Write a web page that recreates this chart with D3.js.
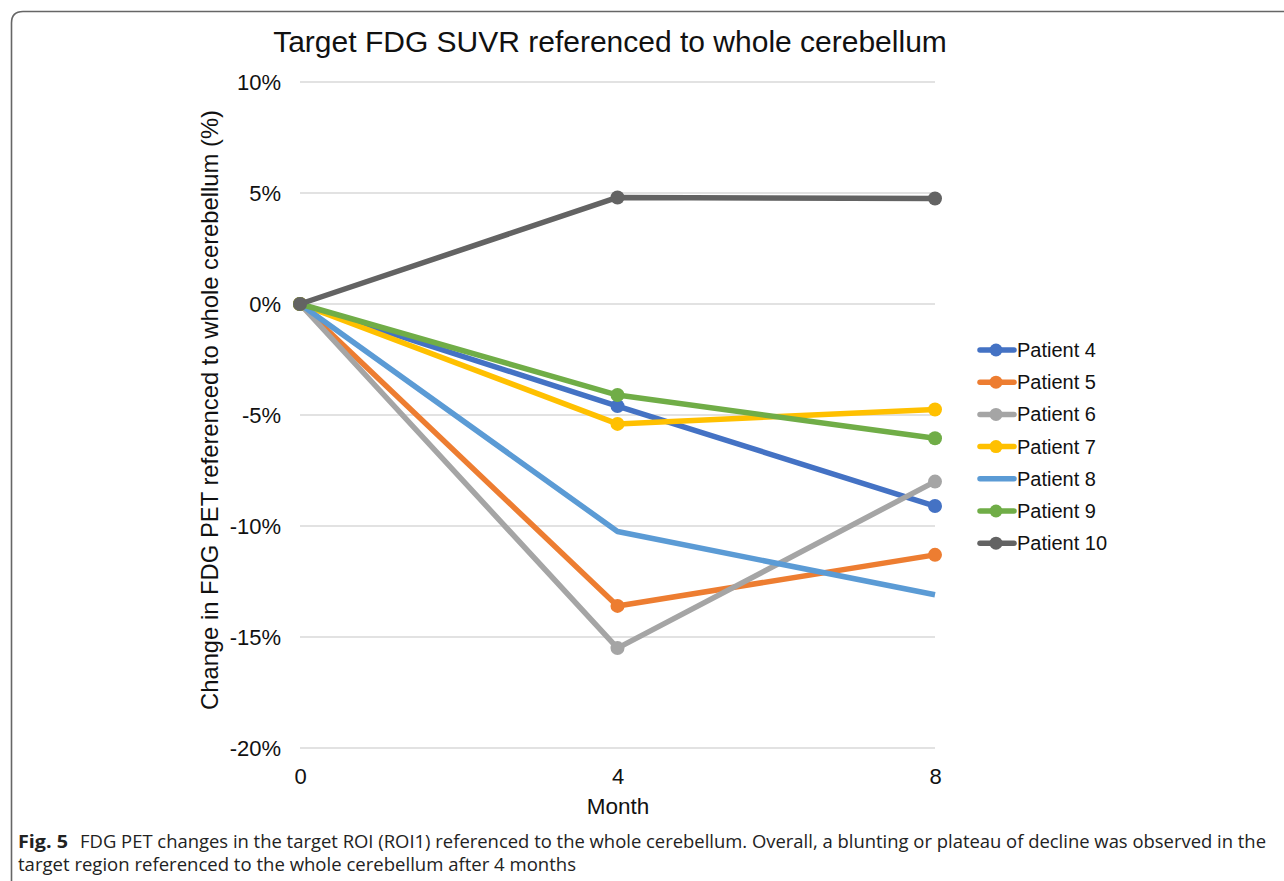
<!DOCTYPE html>
<html>
<head>
<meta charset="utf-8">
<script src="https://cdn.jsdelivr.net/npm/d3@7"></script>
<style>
  html, body { margin: 0; padding: 0; background: #fff; }
  svg { display: block; }
</style>
</head>
<body>
<svg id="chart" width="1284" height="881"></svg>
<script>
const months = [0, 4, 8];
const monthLabels = ["0", "4", "8"];
const yTicks = [10, 5, 0, -5, -10, -15, -20];
const seriesNames = ["Patient 4", "Patient 5", "Patient 6", "Patient 7", "Patient 8", "Patient 9", "Patient 10"];
const seriesColors = ["#4472C4", "#ED7D31", "#A5A5A5", "#FFC000", "#5B9BD5", "#70AD47", "#636363"];
const seriesMarkers = [true, true, true, true, false, true, true];
const patient4 = [0, -4.6, -9.1];
const patient5 = [0, -13.6, -11.3];
const patient6 = [0, -15.5, -8.0];
const patient7 = [0, -5.4, -4.75];
const patient8 = [0, -10.25, -13.1];
const patient9 = [0, -4.1, -6.05];
const patient10 = [0, 4.8, 4.75];
const seriesValues = [patient4, patient5, patient6, patient7, patient8, patient9, patient10];

const svg = d3.select("#chart");
const font = "'Liberation Sans', Arial, Helvetica, sans-serif";

// Frame (rounded top-left, open right/bottom)
svg.append("path")
  .attr("d", "M11.5,881 L11.5,23 Q11.5,11.5 23,11.5 L1284,11.5")
  .attr("fill", "none").attr("stroke", "#666").attr("stroke-width", 1.6);

const x = d3.scaleLinear().domain([0, 8]).range([300, 935]);
const y = d3.scaleLinear().domain([-20, 10]).range([748, 82]);

// Gridlines
svg.append("g").selectAll("line").data(yTicks).join("line")
  .attr("x1", x(0)).attr("x2", x(8))
  .attr("y1", d => y(d)).attr("y2", d => y(d))
  .attr("stroke", "#d9d9d9").attr("stroke-width", 1.3);

// Y axis labels
const yAxis = d3.axisLeft(y).tickValues(yTicks).tickSize(0).tickPadding(0)
  .tickFormat(d => d + "%");
const gy = svg.append("g").attr("transform", "translate(281,0)").call(yAxis);
gy.select(".domain").remove();
gy.selectAll("text").attr("font-family", font).attr("font-size", 22).attr("fill", "#111")
  .attr("dy", "0.35em");

// X axis labels
const xAxis = d3.axisBottom(x).tickValues(months).tickSize(0).tickPadding(0)
  .tickFormat((d, i) => monthLabels[i]);
const gx = svg.append("g").attr("transform", "translate(0,765)").call(xAxis);
gx.select(".domain").remove();
gx.selectAll("text").attr("font-family", font).attr("font-size", 22).attr("fill", "#111")
  .attr("dy", "0.35em").attr("y", 11);

// Title
svg.append("text").attr("x", 610).attr("y", 52).attr("text-anchor", "middle")
  .attr("font-family", font).attr("font-size", 30).attr("fill", "#111")
  .text("Target FDG SUVR referenced to whole cerebellum");

// Axis titles
svg.append("text").attr("x", 618).attr("y", 814).attr("text-anchor", "middle")
  .attr("font-family", font).attr("font-size", 22.5).attr("fill", "#111").text("Month");
svg.append("text").attr("transform", "translate(218,410) rotate(-90)").attr("text-anchor", "middle")
  .attr("font-family", font).attr("font-size", 23.8).attr("fill", "#111")
  .text("Change in FDG PET referenced to whole cerebellum (%)");

// Lines
const line = d3.line().x((d, i) => x(months[i])).y(d => y(d));
const gLines = svg.append("g");
seriesValues.forEach((vals, si) => {
  const g = gLines.append("g");
  g.append("path").attr("d", line(vals)).attr("fill", "none")
    .attr("stroke", seriesColors[si]).attr("stroke-width", 5.5)
    .attr("stroke-linejoin", "round").attr("stroke-linecap", "butt");
  if (seriesMarkers[si]) {
    g.selectAll("circle").data(vals).join("circle")
      .attr("cx", (d, i) => x(months[i])).attr("cy", d => y(d)).attr("r", 7)
      .attr("fill", seriesColors[si]);
  }
});

// Legend
const legend = svg.append("g");
seriesNames.forEach((name, i) => {
  const ly = 350 + i * 32.2;
  legend.append("line").attr("x1", 980).attr("x2", 1014).attr("y1", ly).attr("y2", ly)
    .attr("stroke", seriesColors[i]).attr("stroke-width", 5.5).attr("stroke-linecap", "round");
  if (seriesMarkers[i]) {
    legend.append("circle").attr("cx", 996).attr("cy", ly).attr("r", 6.5).attr("fill", seriesColors[i]);
  }
  legend.append("text").attr("x", 1017).attr("y", ly).attr("dy", "0.35em")
    .attr("font-family", font).attr("font-size", 20).attr("fill", "#111").text(name);
});

// Caption
const capFont = "'Liberation Sans Narrow', 'Open Sans', 'Noto Sans', sans-serif";
svg.append("text").attr("x", 18).attr("y", 848)
  .attr("font-family", capFont).attr("font-size", 17.5).attr("font-weight", "bold").attr("fill", "#222")
  .attr("textLength", 50).attr("lengthAdjust", "spacingAndGlyphs").text("Fig. 5");
svg.append("text").attr("x", 80).attr("y", 848)
  .attr("font-family", capFont).attr("font-size", 17.5).attr("fill", "#222")
  .attr("textLength", 1186).attr("lengthAdjust", "spacingAndGlyphs")
  .text("FDG PET changes in the target ROI (ROI1) referenced to the whole cerebellum. Overall, a blunting or plateau of decline was observed in the");
svg.append("text").attr("x", 18).attr("y", 871)
  .attr("font-family", capFont).attr("font-size", 17.5).attr("fill", "#222")
  .attr("textLength", 558).attr("lengthAdjust", "spacingAndGlyphs")
  .text("target region referenced to the whole cerebellum after 4 months");
</script>
</body>
</html>
